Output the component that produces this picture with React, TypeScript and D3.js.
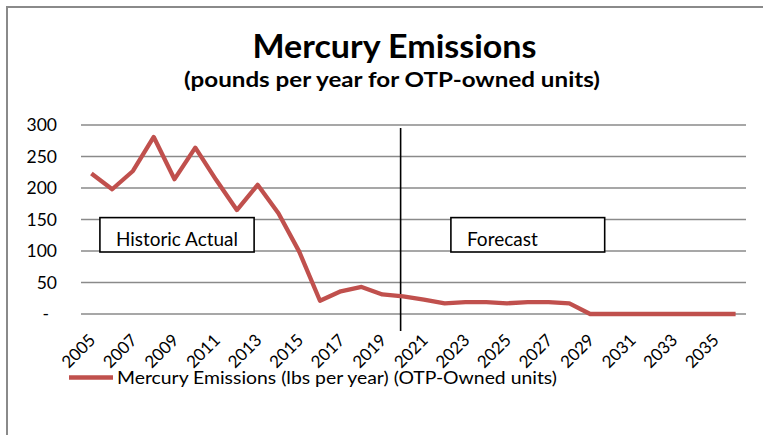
import React from "react";
import * as d3 from "d3";

const years: number[] = d3.range(2005, 2037);
const emissions: number[] = [
  223, 198, 227, 281, 214, 264, 213, 165, 205, 160, 99, 21, 36, 43, 31, 28,
  23, 17, 19, 19, 17, 19, 19, 17, 0, 0, 0, 0, 0, 0, 0, 0,
];
const yTicks: number[] = [0, 50, 100, 150, 200, 250, 300];
const xTickLabels: number[] = years.filter((y) => (y - 2005) % 2 === 0);
const title = "Mercury Emissions";
const subtitle = "(pounds per year for OTP-owned units)";
const seriesName = "Mercury Emissions (lbs per year) (OTP-Owned units)";
const annotations = [
  { label: "Historic Actual", from: 2005.91, to: 2013.33, textLen: 122 },
  { label: "Forecast", from: 2022.8, to: 2030.2, textLen: 71 },
];
const dividerAt = 2020.38;

const W = 763;
const H = 435;
const FONT = "Lato, 'Open Sans', sans-serif";
const RED = "#c0504d";
const GRID = "#8a8a8a";

export default function App() {
  const x = d3.scaleBand<number>().domain(years).range([81, 746]).padding(0);
  const cx = (yr: number) => (x(yr) as number) + x.bandwidth() / 2;
  const y = d3.scaleLinear().domain([0, 300]).range([314, 125]);

  const line = d3
    .line<number>()
    .x((_, i) => cx(years[i]))
    .y((d) => y(d))
    .curve(d3.curveLinear);

  const xf = (v: number) => 81 + (v - 2005) * x.step();
  const dividerX = xf(dividerAt);

  return (
    <svg
      width={W}
      height={H}
      style={{ position: "absolute", left: 0, top: 0, background: "#fff" }}
      fontFamily={FONT}
    >
      <rect x={0} y={0} width={W} height={H} fill="#fff" />
      <rect x={7} y={7} width={W + 20} height={H + 20} fill="none" stroke={GRID} strokeWidth={2} />

      <text x={394.5} y={58} textAnchor="middle" fontSize={33} fontWeight="bold" fill="#000" textLength={284} lengthAdjust="spacingAndGlyphs">
        {title}
      </text>
      <text x={392} y={87} textAnchor="middle" fontSize={21} fontWeight="bold" fill="#000" textLength={416} lengthAdjust="spacingAndGlyphs">
        {subtitle}
      </text>

      {yTicks.map((t) => (
        <g key={t}>
          <line x1={81} x2={746} y1={y(t)} y2={y(t)} stroke={GRID} strokeWidth={1.6} />
          <text
            x={t === 0 ? 49 : 57}
            y={y(t)}
            dy="0.36em"
            textAnchor="end"
            fontSize={17.5}
            fill="#000"
          >
            {t === 0 ? "-" : d3.format(",")(t)}
          </text>
        </g>
      ))}

      {annotations.map((a) => {
        const x0 = xf(a.from);
        const x1 = xf(a.to);
        return (
          <g key={a.label}>
            <rect x={x0} y={y(153)} width={x1 - x0} height={y(100) - y(153) + 1} fill="#fff" stroke="#000" strokeWidth={1.6} />
            <text x={x0 + 16} y={246} fontSize={18.5} fill="#000" textLength={a.textLen} lengthAdjust="spacingAndGlyphs">
              {a.label}
            </text>
          </g>
        );
      })}

      <line x1={dividerX} x2={dividerX} y1={128} y2={331} stroke="#000" strokeWidth={1.6} />

      <path
        d={line(emissions) || ""}
        fill="none"
        stroke={RED}
        strokeWidth={4.3}
        strokeLinejoin="round"
        strokeLinecap="butt"
      />

      {xTickLabels.map((yr) => (
        <text
          key={yr}
          transform={`translate(${cx(yr) + 1},${337}) rotate(-45)`}
          textAnchor="end"
          dy="0.35em"
          fontSize={17}
          fill="#000"
        >
          {yr}
        </text>
      ))}

      <line x1={69} x2={113} y1={377.5} y2={377.5} stroke={RED} strokeWidth={4.5} />
      <text x={117} y={384} fontSize={18} fill="#000" textLength={440} lengthAdjust="spacingAndGlyphs">
        {seriesName}
      </text>
    </svg>
  );
}
